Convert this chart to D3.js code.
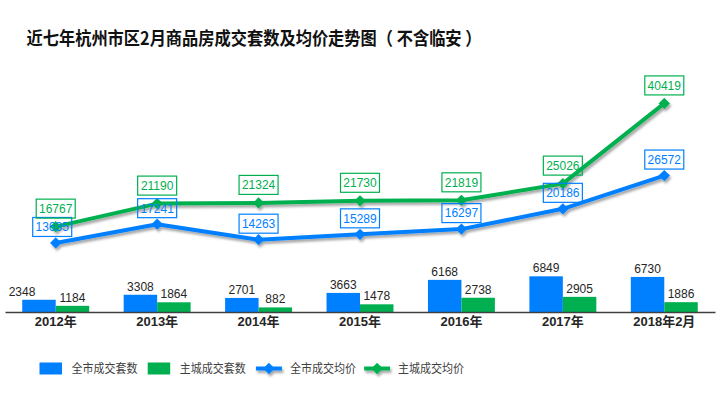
<!DOCTYPE html>
<html>
<head>
<meta charset="utf-8">
<script src="https://cdn.jsdelivr.net/npm/d3@7"></script>
<style>
  html, body { margin: 0; padding: 0; background: #fff; }
  svg { display: block; font-family: "Liberation Sans", Arial, "Noto Sans CJK SC", sans-serif; }
</style>
</head>
<body>
<script>
//Data
    const categories = ["2012年", "2013年", "2014年", "2015年", "2016年", "2017年", "2018年2月"];
    const cityCount = [2348, 3308, 2701, 3663, 6168, 6849, 6730];
    const mainCount = [1184, 1864, 882, 1478, 2738, 2905, 1886];
    const cityPrice = [13635, 17241, 14263, 15289, 16297, 20186, 26572];
    const mainPrice = [16767, 21190, 21324, 21730, 21819, 25026, 40419];
    const barNames = ["全市成交套数", "主城成交套数"];
    const lineNames = ["全市成交均价", "主城成交均价"];

//Variables
    const width = 720;
    const height = 393;
    const blue = "#0080FF";
    const green = "#00B050";
    const cjk = "'Noto Sans CJK SC', sans-serif";

    const svg = d3.select("body")
        .append("svg")
        .attr("width", width)
        .attr("height", height);

//Shadow for lines
    const defs = svg.append("defs");
    defs.append("filter")
        .attr("id", "shadow")
        .attr("x", "-10%").attr("y", "-20%")
        .attr("width", "120%").attr("height", "160%")
        .append("feDropShadow")
        .attr("dx", 1.5)
        .attr("dy", 2.5)
        .attr("stdDeviation", 1.3)
        .attr("flood-color", "#000")
        .attr("flood-opacity", 0.35);

//Title
    svg.append("text")
        .text("近七年杭州市区2月商品房成交套数及均价走势图（ 不含临安 ）")
        .attr("x", 26.5)
        .attr("y", 45)
        .attr("textLength", 455)
        .attr("lengthAdjust", "spacingAndGlyphs")
        .style("font-family", cjk)
        .style("font-weight", "bold")
        .style("font-size", "18px")
        .style("fill", "#111");

//Scales
    const xScale = d3.scaleBand()
        .domain(categories)
        .range([5, 715])
        .paddingInner(0.34)
        .paddingOuter(0.17);

    const subScale = d3.scaleBand()
        .domain(barNames)
        .range([0, xScale.bandwidth()]);

    const yBar = d3.scaleLinear()
        .domain([0, 50000])
        .range([312, 312 - 260.5]);

    const yLine = d3.scaleLinear()
        .domain([0, 50000])
        .range([314, 314 - 260.5]);

    const cx = c => xScale(c) + xScale.bandwidth() / 2;

//Bars
    const barSeries = [
        {name: barNames[0], values: cityCount, color: blue},
        {name: barNames[1], values: mainCount, color: green}
    ];

    barSeries.forEach((s, si) => {
        const g = svg.append("g");
        g.selectAll("rect")
            .data(s.values)
            .enter()
            .append("rect")
            .attr("x", (d, i) => xScale(categories[i]) + subScale(s.name))
            .attr("y", d => yBar(d))
            .attr("width", subScale.bandwidth())
            .attr("height", d => yBar(0) - yBar(d))
            .attr("fill", s.color);

        g.selectAll("text")
            .data(s.values)
            .enter()
            .append("text")
            .text(d => d)
            .attr("x", (d, i) => xScale(categories[i]) + subScale(s.name) + subScale.bandwidth() / 2
                + (si === 0 && i === 0 ? -17 : 0))
            .attr("y", d => yBar(d) - 4)
            .attr("text-anchor", "middle")
            .style("font-size", "12px")
            .style("fill", "#262626");
    });

//X axis
    const xAxis = d3.axisBottom(xScale)
        .tickSize(0)
        .tickSizeOuter(0)
        .tickPadding(5);

    const axisG = svg.append("g")
        .attr("transform", `translate(0, ${yBar(0)})`)
        .call(xAxis);
    axisG.select(".domain")
        .attr("stroke", "#404040")
        .attr("stroke-width", 1.6);
    axisG.selectAll("text")
        .style("font-family", "'Liberation Sans', 'Noto Sans CJK SC', sans-serif")
        .style("font-size", "13px")
        .style("font-weight", "bold")
        .style("fill", "#262626");

//Lines
    const lineSeries = [
        {name: lineNames[0], values: cityPrice, color: blue},
        {name: lineNames[1], values: mainPrice, color: green}
    ];

    const line = d3.line()
        .x((d, i) => cx(categories[i]))
        .y(d => yLine(d));

    const diamond = d3.symbol().type(d3.symbolSquare).size(64);

    lineSeries.forEach(s => {
        const g = svg.append("g").attr("filter", "url(#shadow)");
        g.append("path")
            .datum(s.values)
            .attr("d", line)
            .attr("fill", "none")
            .attr("stroke", s.color)
            .attr("stroke-width", 4)
            .attr("stroke-linejoin", "round");
        g.selectAll("path.mark")
            .data(s.values)
            .enter()
            .append("path")
            .attr("class", "mark")
            .attr("d", diamond)
            .attr("transform", (d, i) => `translate(${cx(categories[i])}, ${yLine(d)}) rotate(45)`)
            .attr("fill", s.color);
    });

//Line labels
    lineSeries.forEach((s, si) => {
        const g = svg.append("g");
        const labels = g.selectAll("g")
            .data(s.values)
            .enter()
            .append("g")
            .attr("transform", (d, i) => `translate(${cx(categories[i]) + (si === 0 && i === 0 ? -3.5 : 0)}, ${yLine(d) - (si === 0 ? 16 : 18)})`);
        labels.append("rect")
            .attr("x", -19.5)
            .attr("y", -9.5)
            .attr("width", 39)
            .attr("height", 19)
            .attr("fill", "none")
            .attr("stroke", s.color)
            .attr("stroke-width", 1.2);
        labels.append("text")
            .text(d => d)
            .attr("text-anchor", "middle")
            .attr("dy", "0.36em")
            .style("font-size", "12px")
            .style("fill", s.color);
    });

//Legend
    const legendItems = [
        {name: barNames[0], color: blue, type: "bar"},
        {name: barNames[1], color: green, type: "bar"},
        {name: lineNames[0], color: blue, type: "line"},
        {name: lineNames[1], color: green, type: "line"}
    ];

    const legend = svg.append("g")
        .attr("transform", "translate(39.5, 368.5)");

    const items = legend.selectAll("g")
        .data(legendItems)
        .enter()
        .append("g")
        .attr("transform", (d, i) => `translate(${i * 108.2}, 0)`);

    items.filter(d => d.type === "bar")
        .append("rect")
        .attr("x", 0)
        .attr("y", -6)
        .attr("width", 22.5)
        .attr("height", 12)
        .attr("fill", d => d.color);

    const lineItems = items.filter(d => d.type === "line")
        .append("g")
        .attr("filter", "url(#shadow)");
    lineItems.append("line")
        .attr("x1", 0).attr("x2", 26)
        .attr("y1", 0).attr("y2", 0)
        .attr("stroke", d => d.color)
        .attr("stroke-width", 4);
    lineItems.append("path")
        .attr("d", diamond)
        .attr("transform", "translate(13, 0) rotate(45)")
        .attr("fill", d => d.color);

    items.append("text")
        .text(d => d.name)
        .attr("x", d => d.type === "bar" ? 32 : 34)
        .attr("dy", "0.38em")
        .attr("textLength", 66)
        .attr("lengthAdjust", "spacingAndGlyphs")
        .style("font-family", cjk)
        .style("font-size", "12px")
        .style("fill", "#404040");
</script>
</body>
</html>
